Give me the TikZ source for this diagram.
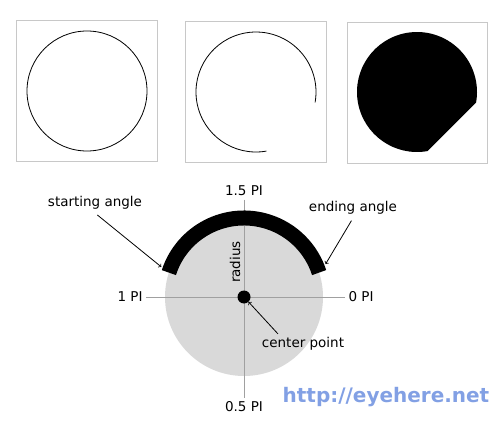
\documentclass[tikz,border=0pt]{standalone}
\usepackage{fontspec}
\setmainfont{DejaVu Sans}
\usetikzlibrary{calc,arrows}
\usepackage{xcolor}
\definecolor{boxgray}{RGB}{200,200,200}
\definecolor{diskgray}{RGB}{217,217,217}
\definecolor{axisgray}{RGB}{160,160,160}
\definecolor{linkblue}{RGB}{130,160,228}

\begin{document}
\begin{tikzpicture}[x=1pt,y=-1pt,font=\fontsize{13.5}{16}\selectfont]
		\useasboundingbox (0,0) rectangle (503,422);
		\def\r{60}
		\def\R{79}
		% three small examples
		\draw[boxgray,line width=0.8] (16,20) rectangle (157,161);
		\draw[boxgray,line width=0.8] (185,21) rectangle (326,162);
		\draw[boxgray,line width=0.8] (347,22) rectangle (487,163);
		\coordinate (C1) at (87,91);
		\coordinate (C2) at (256,92);
		\coordinate (C3) at (417,92);
		\draw[line width=0.8] (C1) circle [radius=\r];
		\draw[line width=0.8] ($(C2)+(80:\r)$) arc [start angle=80, end angle=370, radius=\r];
		\fill ($(C3)+(80:\r)$) arc [start angle=80, end angle=370, radius=\r] -- cycle;
		
		% the arc explained
		\coordinate (O) at (244,297);
		\node (pi15) at (244,191) {1.5 PI};
		\node (pi05) at (244,407) {0.5 PI};
		\node (pi1) at (130,297) {1 PI};
		\node (pi0) at (361,297) {0 PI};
		\fill[diskgray] (O) circle [radius=\R];
		\draw[axisgray,line width=0.8] (pi1) -- (pi0);
		\draw[axisgray,line width=0.8] (pi15) -- (pi05);
		\draw[line width=15] ($(O)+(198:\R)$) arc [start angle=198, end angle=342, radius=\R];
		\node[circle,fill,inner sep=0,minimum size=13] (dot) at (O) {};
		\node[rotate=90] (rad) at (235,262) {radius};
		
		\coordinate (S) at ($(O)+(200:88)$);
		\coordinate (E) at ($(O)+(338:88)$);
		\node (startlbl) at (95,203) {starting angle};
		\node (endlbl) at (353,208) {ending angle};
		\node (ctrlbl) at (303,344) {center point};
		\draw[-to,line width=0.8,shorten <=3pt] (startlbl.south) -- (S);
		\draw[-to,line width=0.8,shorten <=3pt] (endlbl.south) -- (E);
		\draw[-to,line width=0.8] ($(ctrlbl.north)+(-25,0)$) -- (dot);
		
		\node[font=\fontsize{20}{24}\selectfont\bfseries,text=linkblue] (url) at (386,397) {http://eyehere.net};
		\end{tikzpicture}
\end{document}
